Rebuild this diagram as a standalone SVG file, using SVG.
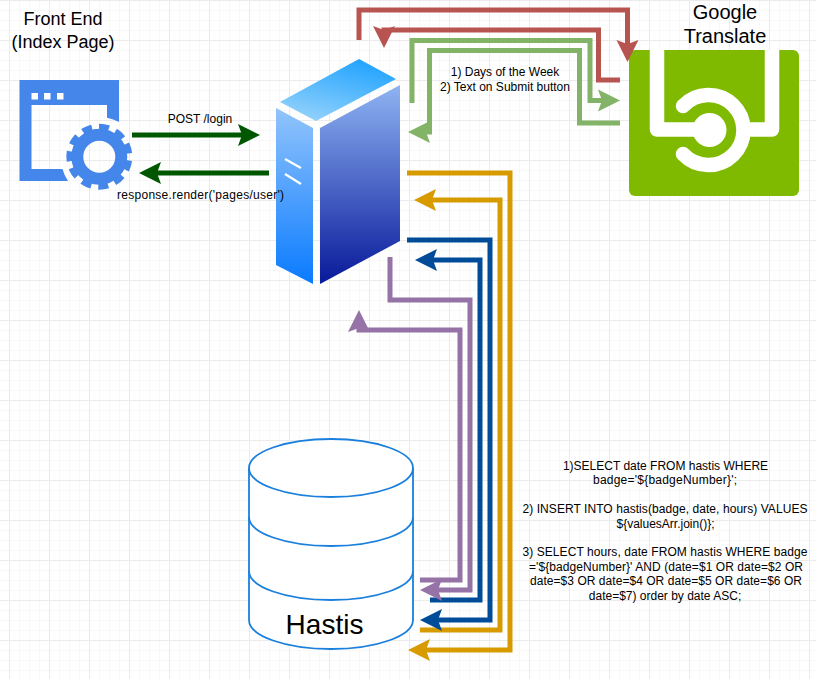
<svg xmlns="http://www.w3.org/2000/svg" width="816" height="679" viewBox="0 0 816 679">
<style>
text{font-family:"Liberation Sans",Arial,sans-serif;fill:#000;text-anchor:middle}
.s12{font-size:12px}.s18{font-size:18px}.s20{font-size:20px}.s28{font-size:28px}
.c{fill:none;stroke-width:5}
.red{stroke:#b85450}.grn{stroke:#82b366}.gold{stroke:#d79b00}.blue{stroke:#004c99}.pur{stroke:#9673a6}.dk{stroke:#005700}
.cyl{fill:none;stroke:#1b80dd;stroke-width:1.8}
</style>
<defs>
<pattern id="grid" patternUnits="userSpaceOnUse" x="9" y="0" width="40" height="40">
<path d="M10.5,0V40M20.5,0V40M30.5,0V40M0,10.5H40M0,20.5H40M0,30.5H40" stroke="#f8f8f8" fill="none"/>
<path d="M0.5,0V40M0,0.5H40" stroke="#ebebeb" fill="none"/>
</pattern>
<marker id="mRed" markerUnits="userSpaceOnUse" markerWidth="24" markerHeight="24" refX="7" refY="12" orient="auto"><path d="M0,1L22,12L0,23L4,12z" fill="#b85450"/></marker>
<marker id="mGrn" markerUnits="userSpaceOnUse" markerWidth="24" markerHeight="24" refX="7" refY="12" orient="auto"><path d="M0,1L22,12L0,23L4,12z" fill="#82b366"/></marker>
<marker id="mGold" markerUnits="userSpaceOnUse" markerWidth="24" markerHeight="24" refX="7" refY="12" orient="auto"><path d="M0,1L22,12L0,23L4,12z" fill="#d79b00"/></marker>
<marker id="mBlue" markerUnits="userSpaceOnUse" markerWidth="24" markerHeight="24" refX="7" refY="12" orient="auto"><path d="M0,1L22,12L0,23L4,12z" fill="#004c99"/></marker>
<marker id="mPur" markerUnits="userSpaceOnUse" markerWidth="24" markerHeight="24" refX="7" refY="12" orient="auto"><path d="M0,1L22,12L0,23L4,12z" fill="#9673a6"/></marker>
<marker id="mDk" markerUnits="userSpaceOnUse" markerWidth="24" markerHeight="24" refX="7" refY="12" orient="auto"><path d="M0,1L22,12L0,23L4,12z" fill="#005700"/></marker>
<linearGradient id="gTop" x1="0.75" y1="0" x2="0.25" y2="1"><stop offset="0" stop-color="#1fa2ff"/><stop offset="1" stop-color="#93d2fb"/></linearGradient>
<linearGradient id="gLeft" x1="0" y1="0" x2="0" y2="1"><stop offset="0" stop-color="#92c4fb"/><stop offset="1" stop-color="#0a7bff"/></linearGradient>
<linearGradient id="gFront" x1="0" y1="0" x2="0" y2="1"><stop offset="0" stop-color="#8fb3f2"/><stop offset="1" stop-color="#08199a"/></linearGradient>
</defs>
<rect width="816" height="679" fill="#fff"/>
<rect width="816" height="679" fill="url(#grid)"/>

<g id="frontend">
<path fill="#4486ea" fill-rule="evenodd" d="M19.5,80H119V122A40,40 0 0 0 107,117.7V105H31.5V169H62.5A40,40 0 0 0 68,181H19.5Z"/>
<rect x="31.5" y="93" width="6.5" height="6.5" fill="#fff"/><rect x="44" y="93" width="6.5" height="6.5" fill="#fff"/><rect x="57" y="93" width="6.5" height="6.5" fill="#fff"/>
<circle cx="99.3" cy="156.7" r="22" fill="none" stroke="#4486ea" stroke-width="12"/>
<circle cx="99.3" cy="156.7" r="30" fill="none" stroke="#4486ea" stroke-width="6" stroke-dasharray="10 7.136" transform="rotate(-25.5 99.3 156.7)"/>
<text class="s18" x="63" y="25">Front End</text>
<text class="s18" x="63" y="48">(Index Page)</text>
</g>

<g id="server">
<path d="M359,59L396,79L316,121L280,102Z" fill="url(#gTop)"/>
<path d="M276,108L313,128V284L276,265Z" fill="url(#gLeft)"/>
<path d="M320,128L400,85V241L320,284Z" fill="url(#gFront)"/>
<path d="M285,159L301,168M285,174L301,184" stroke="#fff" stroke-width="2.2" fill="none"/>
</g>

<g id="translate">
<rect x="629" y="50" width="170" height="146" rx="6" fill="#7fba00"/>
<g fill="none" stroke="#fff" stroke-width="14.5">
<path d="M657,50V129.5H700" stroke-linejoin="round"/>
<path d="M745,129.5H772V50" stroke-linejoin="round"/>
<path d="M683,106A35,35 0 1 1 683,154" stroke-linecap="round"/>
</g>
<circle cx="709.5" cy="130" r="17" fill="#fff"/>
<text class="s20" x="725" y="19">Google</text>
<text class="s20" x="725" y="43">Translate</text>
</g>

<g id="database">
<path d="M249,468A82,29 0 0 1 413,468V620A82,29 0 0 1 249,620Z" fill="#fff" stroke="none"/>
<path class="cyl" d="M249,468A82,29 0 0 1 413,468V620A82,29 0 0 1 249,620Z"/>
<path class="cyl" d="M249,468A82,29 0 0 0 413,468"/>
<path class="cyl" d="M249,517A82,29 0 0 0 413,517"/>
<path class="cyl" d="M249,571A82,29 0 0 0 413,571"/>
<text class="s28" x="324.500" y="634">Hastis</text>
</g>

<g id="connectors">
<path class="c dk" d="M132,135H245" marker-end="url(#mDk)"/>
<path class="c dk" d="M269,173H154" marker-end="url(#mDk)"/>
<path class="c red" d="M359,40V10H627.5V47" marker-end="url(#mRed)"/>
<path class="c red" d="M620,80H598.5V30H384V33" marker-end="url(#mRed)"/>
<path class="c grn" d="M412,103V40.5H590V100.5H605" marker-end="url(#mGrn)"/>
<path class="c grn" d="M620,123H579.5V50.5H429.5V132H423" marker-end="url(#mGrn)"/>
<path class="c gold" d="M407,173H510V650H423" marker-end="url(#mGold)"/>
<path class="c gold" d="M420,630H500V200H429" marker-end="url(#mGold)"/>
<path class="c blue" d="M407,240H490V620H435" marker-end="url(#mBlue)"/>
<path class="c blue" d="M430,600H480V260H430" marker-end="url(#mBlue)"/>
<path class="c pur" d="M390,257V300H470V590H435" marker-end="url(#mPur)"/>
<path class="c pur" d="M420,580H460V330H359V325" marker-end="url(#mPur)"/>
</g>

<g id="labels">
<text class="s12" x="200" y="123">POST /login</text>
<text class="s12" x="200.500" y="199" textLength="167">response.render('pages/user')</text>
<text class="s12" x="505" y="76">1) Days of the Week</text>
<text class="s12" x="505" y="91">2) Text on Submit button</text>
<g id="queries">
<text class="s12" x="665.500" y="470">1)SELECT date FROM hastis WHERE</text>
<text class="s12" x="665" y="484.400" textLength="144">badge='${badgeNumber}';</text>
<text class="s12" x="665" y="513.200" textLength="285">2) INSERT INTO hastis(badge, date, hours) VALUES</text>
<text class="s12" x="665.500" y="527.600">${valuesArr.join()};</text>
<text class="s12" x="665" y="556.400" textLength="285">3) SELECT hours, date FROM hastis WHERE badge</text>
<text class="s12" x="666" y="570.800" textLength="274">='${badgeNumber}' AND (date=$1 OR date=$2 OR</text>
<text class="s12" x="666" y="585.200" textLength="272">date=$3 OR date=$4 OR date=$5 OR date=$6 OR</text>
<text class="s12" x="665" y="599.600">date=$7) order by date ASC;</text>
</g>
</g>
</svg>
